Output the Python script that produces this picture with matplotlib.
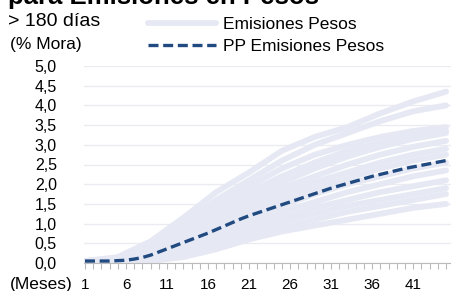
import numpy as np
import matplotlib.pyplot as plt

plt.rcParams['font.family'] = ['Liberation Sans', 'DejaVu Sans']

# meses de seguimiento de cada emisión (muestras cada 4 meses)
meses = [1, 5, 9, 13, 17, 21, 25, 29, 33, 37, 41, 45]

# curvas de mora > 180 días por emisión (% Mora)
emisiones = [
    [0.05, 0.15, 0.55, 1.15, 1.80, 2.30, 2.85, 3.20, 3.45, 3.80, 4.10, 4.35],
    [0.05, 0.12, 0.45, 1.00, 1.60, 2.10, 2.60, 3.00, 3.30, 3.60, 3.85, 4.00],
    [0.04, 0.10, 0.40, 0.90, 1.45, 1.95, 2.40, 2.75, 3.00, 3.20, 3.35, 3.45],
    [0.04, 0.10, 0.35, 0.85, 1.35, 1.80, 2.20, 2.55, 2.85, 3.05, 3.25, 3.35],
    [0.03, 0.08, 0.30, 0.75, 1.20, 1.65, 2.05, 2.40, 2.70, 2.95, 3.15, 3.30],
    [0.03, 0.08, 0.30, 0.70, 1.10, 1.50, 1.90, 2.20, 2.50, 2.75, 2.95, 3.10],
    [0.03, 0.07, 0.25, 0.60, 1.00, 1.40, 1.75, 2.05, 2.30, 2.55, 2.75, 2.90],
    [0.02, 0.06, 0.20, 0.55, 0.90, 1.25, 1.60, 1.90, 2.15, 2.40, 2.60, 2.75],
    [0.02, 0.05, 0.18, 0.45, 0.80, 1.10, 1.45, 1.75, 2.00, 2.20, 2.40, 2.55],
    [0.02, 0.05, 0.15, 0.40, 0.70, 1.00, 1.30, 1.55, 1.80, 2.00, 2.20, 2.35],
    [0.02, 0.04, 0.12, 0.35, 0.60, 0.90, 1.15, 1.40, 1.60, 1.80, 1.95, 2.10],
    [0.01, 0.03, 0.10, 0.30, 0.55, 0.80, 1.05, 1.25, 1.45, 1.60, 1.75, 1.90],
    [0.01, 0.03, 0.08, 0.22, 0.45, 0.70, 0.90, 1.10, 1.30, 1.45, 1.60, 1.75],
    [0.01, 0.02, 0.05, 0.15, 0.35, 0.60, 0.80, 0.95, 1.10, 1.25, 1.40, 1.50],
]

# promedio ponderado, mensual
meses_pp = list(range(1, 46))
pp = [0.05, 0.05, 0.05, 0.05, 0.06, 0.07, 0.10, 0.14, 0.20, 0.28,
      0.36, 0.44, 0.52, 0.60, 0.68, 0.76, 0.85, 0.94, 1.03, 1.12,
      1.20, 1.27, 1.34, 1.41, 1.48, 1.55, 1.62, 1.69, 1.76, 1.83,
      1.90, 1.96, 2.02, 2.08, 2.14, 2.20, 2.25, 2.30, 2.35, 2.40,
      2.44, 2.48, 2.52, 2.56, 2.60]

y_ticks = [0, 0.5, 1, 1.5, 2, 2.5, 3, 3.5, 4, 4.5, 5]
x_labels = [1, 6, 11, 16, 21, 26, 31, 36, 41]

fig = plt.figure(figsize=(4.51, 2.91), dpi=100, facecolor='white')
ax = fig.add_axes([84 / 451, 28 / 291, 367 / 451, 197 / 291])

claro = '#e6e9f4'
azul = '#214a80'

for i, serie in enumerate(emisiones):
    ax.plot(meses, serie, color=claro, lw=4.2, solid_capstyle='round',
            label='Emisiones Pesos' if i == 0 else None, zorder=2)
ax.plot(meses_pp, pp, color=azul, lw=2.4, dashes=(3, 1.4),
        label='PP Emisiones Pesos', zorder=3)

ax.set_xlim(0.88, 45.6)
ax.set_ylim(0, 5)
ax.set_yticks(y_ticks)
ax.set_yticklabels([f'{v:.1f}'.replace('.', ',') for v in y_ticks])
ax.set_xticks(meses_pp)
ax.set_xticklabels([str(m) if m in x_labels else '' for m in meses_pp])
ax.tick_params(axis='y', length=0, pad=19.5, labelsize=11.5)
ax.tick_params(axis='x', length=4, color='#bbbbbb', labelsize=11, pad=6.5)
ax.grid(axis='y', color='#ebebf2', lw=1, zorder=0)
for s in ['top', 'right', 'left']:
    ax.spines[s].set_visible(False)
ax.spines['bottom'].set_color('#bbbbbb')

fig.text(10 / 451, 1 - 285 / 291, '(Meses)', fontsize=12.5, ha='left', va='center')

# titulo cortado arriba, como en la imagen original
fig.text(8 / 451, 1 - 4 / 291, 'para Emisiones en Pesos', fontsize=18.5,
         fontweight='bold', ha='left', va='baseline')
fig.text(8 / 451, 1 - 21 / 291, '> 180 días', fontsize=14, ha='left', va='center')
fig.text(10 / 451, 1 - 45 / 291, '(% Mora)', fontsize=12.5, ha='left', va='center')

ax.legend(loc='upper left', bbox_to_anchor=(148 / 451, 1 - 16.5 / 291),
          bbox_transform=fig.transFigure, frameon=False, fontsize=12.5,
          handlelength=3.9, handletextpad=0.4, labelspacing=0.42,
          borderaxespad=0, borderpad=0)

fig.savefig('out.png', dpi=100, facecolor='white')
